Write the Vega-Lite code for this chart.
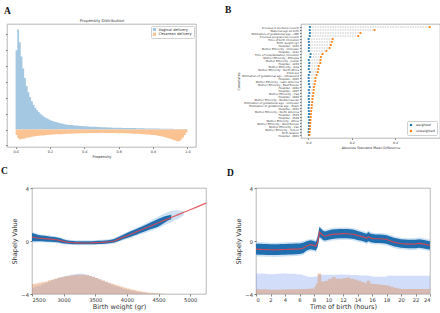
{
"$schema": "https://vega.github.io/schema/vega-lite/v6.json",
"padding": {"left": 0, "top": 4, "right": 0, "bottom": 0},
"config": {
  "view": {"stroke": "#9a9a9a", "strokeWidth": 0.7},
  "axis": {"domain": false, "grid": false, "tickColor": "#333", "tickWidth": 0.6, "labelColor": "#333", "titleColor": "#333", "labelFont": "DejaVu Sans", "titleFont": "DejaVu Sans", "titleFontWeight": "normal"},
  "legend": {"labelFont": "DejaVu Sans", "labelColor": "#333"},
  "title": {"font": "Liberation Serif", "fontWeight": "bold", "fontSize": 9.5, "anchor": "start", "frame": "group", "baseline": "alphabetic", "color": "#111"}
},
"spacing": 6,
"resolve": {"scale": {"color": "independent"}},
"vconcat": [
 {"hconcat": [
  {
   "width": 189, "height": 123,
   "title": {"text": "A", "dx": -3, "offset": 2.6},
   "data": {"values": [
    {"p":0.00,"V":5.0,"C":-0.35},{"p":0.01,"V":6.3,"C":-0.55},{"p":0.02,"V":5.5,"C":-0.62},{"p":0.03,"V":4.6,"C":-0.6},{"p":0.04,"V":3.85,"C":-0.58},
    {"p":0.05,"V":3.25,"C":-0.56},{"p":0.06,"V":2.75,"C":-0.52},{"p":0.07,"V":2.35,"C":-0.5},{"p":0.08,"V":2.05,"C":-0.49},{"p":0.09,"V":1.78,"C":-0.45},
    {"p":0.10,"V":1.56,"C":-0.44},{"p":0.11,"V":1.38,"C":-0.42},{"p":0.12,"V":1.23,"C":-0.41},{"p":0.13,"V":1.1,"C":-0.39},{"p":0.14,"V":0.99,"C":-0.38},
    {"p":0.15,"V":0.9,"C":-0.37},{"p":0.16,"V":0.82,"C":-0.37},{"p":0.17,"V":0.75,"C":-0.35},{"p":0.18,"V":0.69,"C":-0.35},{"p":0.19,"V":0.63,"C":-0.33},
    {"p":0.20,"V":0.58,"C":-0.33},{"p":0.21,"V":0.54,"C":-0.32},{"p":0.22,"V":0.5,"C":-0.32},{"p":0.23,"V":0.47,"C":-0.3},{"p":0.24,"V":0.44,"C":-0.3},
    {"p":0.25,"V":0.41,"C":-0.3},{"p":0.26,"V":0.38,"C":-0.29},{"p":0.27,"V":0.36,"C":-0.28},{"p":0.28,"V":0.34,"C":-0.28},{"p":0.29,"V":0.32,"C":-0.27},
    {"p":0.30,"V":0.3,"C":-0.27},{"p":0.31,"V":0.29,"C":-0.27},{"p":0.32,"V":0.28,"C":-0.26},{"p":0.33,"V":0.27,"C":-0.25},{"p":0.34,"V":0.26,"C":-0.25},
    {"p":0.35,"V":0.25,"C":-0.25},{"p":0.36,"V":0.24,"C":-0.24},{"p":0.37,"V":0.23,"C":-0.24},{"p":0.38,"V":0.22,"C":-0.24},{"p":0.39,"V":0.21,"C":-0.23},
    {"p":0.40,"V":0.2,"C":-0.23},{"p":0.41,"V":0.2,"C":-0.23},{"p":0.42,"V":0.19,"C":-0.22},{"p":0.43,"V":0.18,"C":-0.22},{"p":0.44,"V":0.18,"C":-0.22},
    {"p":0.45,"V":0.17,"C":-0.21},{"p":0.46,"V":0.17,"C":-0.22},{"p":0.47,"V":0.16,"C":-0.21},{"p":0.48,"V":0.16,"C":-0.21},{"p":0.49,"V":0.15,"C":-0.21},
    {"p":0.50,"V":0.15,"C":-0.2},{"p":0.51,"V":0.14,"C":-0.21},{"p":0.52,"V":0.14,"C":-0.21},{"p":0.53,"V":0.13,"C":-0.21},{"p":0.54,"V":0.13,"C":-0.22},
    {"p":0.55,"V":0.13,"C":-0.21},{"p":0.56,"V":0.12,"C":-0.22},{"p":0.57,"V":0.12,"C":-0.22},{"p":0.58,"V":0.12,"C":-0.22},{"p":0.59,"V":0.11,"C":-0.23},
    {"p":0.60,"V":0.11,"C":-0.23},{"p":0.61,"V":0.11,"C":-0.22},{"p":0.62,"V":0.1,"C":-0.23},{"p":0.63,"V":0.1,"C":-0.24},{"p":0.64,"V":0.1,"C":-0.24},
    {"p":0.65,"V":0.1,"C":-0.24},{"p":0.66,"V":0.09,"C":-0.25},{"p":0.67,"V":0.09,"C":-0.25},{"p":0.68,"V":0.09,"C":-0.26},{"p":0.69,"V":0.09,"C":-0.26},
    {"p":0.70,"V":0.08,"C":-0.27},{"p":0.71,"V":0.08,"C":-0.27},{"p":0.72,"V":0.08,"C":-0.28},{"p":0.73,"V":0.08,"C":-0.28},{"p":0.74,"V":0.08,"C":-0.29},
    {"p":0.75,"V":0.07,"C":-0.3},{"p":0.76,"V":0.07,"C":-0.31},{"p":0.77,"V":0.07,"C":-0.32},{"p":0.78,"V":0.07,"C":-0.33},{"p":0.79,"V":0.07,"C":-0.34},
    {"p":0.80,"V":0.06,"C":-0.35},{"p":0.81,"V":0.06,"C":-0.36},{"p":0.82,"V":0.06,"C":-0.38},{"p":0.83,"V":0.06,"C":-0.4},{"p":0.84,"V":0.05,"C":-0.42},
    {"p":0.85,"V":0.05,"C":-0.44},{"p":0.86,"V":0.05,"C":-0.47},{"p":0.87,"V":0.05,"C":-0.5},{"p":0.88,"V":0.05,"C":-0.53},{"p":0.89,"V":0.05,"C":-0.56},
    {"p":0.90,"V":0.05,"C":-0.6},{"p":0.91,"V":0.05,"C":-0.64},{"p":0.92,"V":0.04,"C":-0.68},{"p":0.93,"V":0.04,"C":-0.72},{"p":0.94,"V":0.04,"C":-0.74},
    {"p":0.95,"V":0.04,"C":-0.72},{"p":0.96,"V":0.04,"C":-0.62},{"p":0.97,"V":0.03,"C":-0.5},{"p":0.98,"V":0.03,"C":-0.35},{"p":0.99,"V":0.03,"C":-0.18},
    {"p":1.00,"V":0.03,"C":-0.18}
   ]},
   "transform": [{"fold": ["V", "C"], "as": ["s", "h"]}],
   "resolve": {"axis": {"x": "independent"}},
   "layer": [
    {"mark": {"type": "area", "interpolate": "step-after"},
     "encoding": {
      "x": {"field": "p", "type": "quantitative", "scale": {"domain": [-0.05, 1.05], "nice": false, "zero": false},
            "axis": {"values": [0, 0.2, 0.4, 0.6, 0.8, 1.0], "format": ".1f", "title": "Propensity", "labelFontSize": 3.4, "titleFontSize": 3.6, "tickSize": 1.5, "labelPadding": 1, "titlePadding": 1.5}},
      "y": {"field": "h", "type": "quantitative", "stack": null, "scale": {"domain": [-1.1, 6.65], "nice": false, "zero": false},
            "axis": {"values": [-1, 0, 1, 2, 3, 4, 5, 6], "labels": false, "title": null, "tickSize": 1.5}},
      "y2": {"datum": 0},
      "color": {"field": "s", "type": "nominal", "scale": {"domain": ["V", "C"], "range": ["#a4c7e2", "#fcc392"]},
                "legend": {"title": null, "orient": "top-right", "offset": 2, "padding": 1.5, "strokeColor": "#d0d0d0", "fillColor": "white", "cornerRadius": 1, "labelFontSize": 3.7, "symbolType": "square", "symbolSize": 10, "symbolStrokeWidth": 0, "rowPadding": 0.8, "labelOffset": 2,
                           "labelExpr": "datum.label == 'V' ? 'Vaginal delivery' : 'Cesarean delivery'"}}
     }},
    {"mark": {"type": "point", "opacity": 0},
     "encoding": {
      "x": {"field": "p", "type": "quantitative", "axis": {"orient": "top", "title": "Propensity Distribution", "labels": false, "ticks": false, "titleFontSize": 3.9, "titlePadding": 1.5}}
     }}
   ]
  },
  {
   "width": 139, "height": 114,
   "title": {"text": "B", "dx": -76, "offset": 9.7},
   "data": {"values": [
    {"c": "Previous C-Sections (count)", "weighted": 0.007, "unweighted": 0.56},
    {"c": "Maternal age at birth", "weighted": 0.006, "unweighted": 0.305},
    {"c": "Estimation of gestational age - LMP", "weighted": 0.007, "unweighted": 0.24},
    {"c": "Previous pregnancies (count)", "weighted": 0.006, "unweighted": 0.23},
    {"c": "Time of birth (minutes)", "weighted": 0.001, "unweighted": 0.112},
    {"c": "Birth weight (gr)", "weighted": 0.002, "unweighted": 0.108},
    {"c": "Hospital - 1101", "weighted": 0.003, "unweighted": 0.104},
    {"c": "Mother Ethnicity - Unknown", "weighted": 0.002, "unweighted": 0.098},
    {"c": "Hospital - 1112", "weighted": 0.002, "unweighted": 0.083},
    {"c": "Time of hospitalization (minutes)", "weighted": 0.01, "unweighted": 0.066},
    {"c": "Mother Ethnicity - Ethiopia", "weighted": 0.008, "unweighted": 0.058},
    {"c": "Mother Ethnicity - Jewish", "weighted": 0.002, "unweighted": 0.056},
    {"c": "Hospital - 1203", "weighted": 0.004, "unweighted": 0.055},
    {"c": "Mother Ethnicity - Asia", "weighted": 0.003, "unweighted": 0.048},
    {"c": "Mother Ethnicity - North Africa", "weighted": 0.002, "unweighted": 0.046},
    {"c": "Child sex", "weighted": 0.007, "unweighted": 0.043},
    {"c": "Estimation of gestational age - Ultrasound", "weighted": 0.002, "unweighted": 0.038},
    {"c": "Hospital - 1305", "weighted": 0.001, "unweighted": 0.033},
    {"c": "Mother Ethnicity - Latin America", "weighted": 0.002, "unweighted": 0.032},
    {"c": "Mother Ethnicity - East Europe", "weighted": 0.003, "unweighted": 0.029},
    {"c": "Hospital - 1402", "weighted": 0.006, "unweighted": 0.026},
    {"c": "Hospital - 1407", "weighted": 0.002, "unweighted": 0.025},
    {"c": "Mother Ethnicity - Iraq", "weighted": 0.004, "unweighted": 0.023},
    {"c": "Hospital - 1409", "weighted": 0.001, "unweighted": 0.021},
    {"c": "Mother Ethnicity - Mediterranean", "weighted": 0.002, "unweighted": 0.019},
    {"c": "Estimation of gestational age - Unknown", "weighted": 0.003, "unweighted": 0.018},
    {"c": "Estimation of gestational age - Exam", "weighted": 0.002, "unweighted": 0.016},
    {"c": "Hospital - 1501", "weighted": 0.001, "unweighted": 0.015},
    {"c": "Mother Ethnicity - North America", "weighted": 0.002, "unweighted": 0.013},
    {"c": "Hospital - 1503", "weighted": 0.003, "unweighted": 0.012},
    {"c": "Hospital - 1508", "weighted": 0.001, "unweighted": 0.011},
    {"c": "Mother Ethnicity - Africa", "weighted": 0.004, "unweighted": 0.01},
    {"c": "Mother Ethnicity - West Europe", "weighted": 0.002, "unweighted": 0.009},
    {"c": "Mother Ethnicity - Iran", "weighted": 0.003, "unweighted": 0.008},
    {"c": "Mother Ethnicity - Yemen", "weighted": 0.002, "unweighted": 0.007},
    {"c": "Birth Season", "weighted": 0.001, "unweighted": 0.006},
    {"c": "Hospital - 1601", "weighted": 0.002, "unweighted": 0.005}
   ]},
   "layer": [
    {"mark": {"type": "rule", "strokeDash": [1.5, 1], "color": "#9a9a9a", "strokeWidth": 0.6},
     "encoding": {
      "y": {"field": "c", "type": "nominal", "sort": null, "scale": {"type": "point", "padding": 2.1},
            "axis": {"title": "Covariates", "titleFontSize": 3.4, "titlePadding": 1.5, "labelFontSize": 2.7, "labelPadding": 1, "tickSize": 1.5, "labelOverlap": false, "labelLimit": 0}},
      "x": {"field": "weighted", "type": "quantitative", "scale": {"domain": [-0.034, 0.607], "nice": false, "zero": false},
            "axis": {"values": [0, 0.1, 0.2, 0.3, 0.4, 0.5], "format": ".1f", "title": "Absolute Standard Mean Difference", "labelFontSize": 3.2, "titleFontSize": 3.3, "tickSize": 1.5, "labelPadding": 1, "titlePadding": 1.5}},
      "x2": {"field": "unweighted"}
     }},
    {"transform": [{"fold": ["weighted", "unweighted"], "as": ["k", "v"]}],
     "mark": {"type": "point", "filled": true, "size": 5, "opacity": 1},
     "encoding": {
      "y": {"field": "c", "type": "nominal", "sort": null},
      "x": {"field": "v", "type": "quantitative"},
      "color": {"field": "k", "type": "nominal", "scale": {"domain": ["weighted", "unweighted"], "range": ["#1f77b4", "#ff7f0e"]},
                "legend": {"title": null, "orient": "bottom-right", "offset": 3, "padding": 2, "strokeColor": "#d0d0d0", "fillColor": "white", "cornerRadius": 1, "labelFontSize": 3.2, "symbolType": "circle", "symbolSize": 6, "rowPadding": 2, "labelOffset": 3}}
     }}
   ]
  }
 ], "spacing": 27, "resolve": {"scale": {"color": "independent"}}},
 {"hconcat": [
  {"hconcat": [
   {"width": 25, "height": 106, "view": {"stroke": null}, "data": {"values": [{"s": 0}]}, "mark": {"type": "point", "opacity": 0}},
   {
    "width": 174, "height": 106,
    "title": {"text": "C", "dx": -31, "offset": 10.5},
    "data": {"values": [
     {"w":2500,"m":0.3,"lo":-0.02,"hi":0.6,"lo2":-0.12,"hi2":0.7,"hb":-3.5,"ho":-3.25},
     {"w":2550,"m":0.25,"lo":-0.02,"hi":0.52,"lo2":-0.12,"hi2":0.62,"hb":-3.42,"ho":-3.2},
     {"w":2600,"m":0.22,"lo":-0.02,"hi":0.46,"lo2":-0.1,"hi2":0.55,"hb":-3.35,"ho":-3.15},
     {"w":2650,"m":0.2,"lo":-0.02,"hi":0.42,"lo2":-0.1,"hi2":0.5,"hb":-3.25,"ho":-3.1},
     {"w":2700,"m":0.18,"lo":-0.03,"hi":0.39,"lo2":-0.1,"hi2":0.47,"hb":-3.15,"ho":-3.05},
     {"w":2750,"m":0.16,"lo":-0.05,"hi":0.36,"lo2":-0.12,"hi2":0.43,"hb":-3.05,"ho":-2.97},
     {"w":2800,"m":0.14,"lo":-0.06,"hi":0.33,"lo2":-0.13,"hi2":0.4,"hb":-2.95,"ho":-2.9},
     {"w":2850,"m":0.11,"lo":-0.08,"hi":0.3,"lo2":-0.15,"hi2":0.37,"hb":-2.86,"ho":-2.84},
     {"w":2900,"m":0.08,"lo":-0.1,"hi":0.26,"lo2":-0.17,"hi2":0.33,"hb":-2.78,"ho":-2.78},
     {"w":2950,"m":0.03,"lo":-0.13,"hi":0.2,"lo2":-0.2,"hi2":0.27,"hb":-2.72,"ho":-2.73},
     {"w":3000,"m":-0.03,"lo":-0.18,"hi":0.11,"lo2":-0.25,"hi2":0.18,"hb":-2.65,"ho":-2.68},
     {"w":3050,"m":-0.08,"lo":-0.2,"hi":0.05,"lo2":-0.27,"hi2":0.12,"hb":-2.6,"ho":-2.64},
     {"w":3100,"m":-0.11,"lo":-0.22,"hi":0.02,"lo2":-0.29,"hi2":0.09,"hb":-2.55,"ho":-2.6},
     {"w":3150,"m":-0.13,"lo":-0.24,"hi":0.0,"lo2":-0.3,"hi2":0.07,"hb":-2.5,"ho":-2.57},
     {"w":3200,"m":-0.14,"lo":-0.25,"hi":-0.01,"lo2":-0.31,"hi2":0.05,"hb":-2.47,"ho":-2.55},
     {"w":3250,"m":-0.14,"lo":-0.25,"hi":-0.01,"lo2":-0.31,"hi2":0.05,"hb":-2.47,"ho":-2.54},
     {"w":3300,"m":-0.15,"lo":-0.25,"hi":-0.02,"lo2":-0.31,"hi2":0.05,"hb":-2.5,"ho":-2.55},
     {"w":3350,"m":-0.15,"lo":-0.25,"hi":-0.02,"lo2":-0.31,"hi2":0.05,"hb":-2.55,"ho":-2.59},
     {"w":3400,"m":-0.15,"lo":-0.25,"hi":-0.02,"lo2":-0.31,"hi2":0.05,"hb":-2.62,"ho":-2.65},
     {"w":3450,"m":-0.14,"lo":-0.24,"hi":-0.01,"lo2":-0.3,"hi2":0.05,"hb":-2.7,"ho":-2.72},
     {"w":3500,"m":-0.13,"lo":-0.24,"hi":0.0,"lo2":-0.3,"hi2":0.07,"hb":-2.8,"ho":-2.8},
     {"w":3550,"m":-0.12,"lo":-0.23,"hi":0.01,"lo2":-0.29,"hi2":0.07,"hb":-2.9,"ho":-2.89},
     {"w":3600,"m":-0.11,"lo":-0.22,"hi":0.02,"lo2":-0.28,"hi2":0.09,"hb":-3.0,"ho":-2.98},
     {"w":3650,"m":-0.09,"lo":-0.2,"hi":0.04,"lo2":-0.27,"hi2":0.11,"hb":-3.1,"ho":-3.07},
     {"w":3700,"m":-0.07,"lo":-0.18,"hi":0.06,"lo2":-0.25,"hi2":0.13,"hb":-3.2,"ho":-3.15},
     {"w":3750,"m":-0.04,"lo":-0.16,"hi":0.1,"lo2":-0.23,"hi2":0.17,"hb":-3.3,"ho":-3.22},
     {"w":3800,"m":0,"lo":-0.12,"hi":0.15,"lo2":-0.19,"hi2":0.22,"hb":-3.4,"ho":-3.3},
     {"w":3850,"m":0.1,"lo":-0.03,"hi":0.26,"lo2":-0.1,"hi2":0.33,"hb":-3.48,"ho":-3.38},
     {"w":3900,"m":0.2,"lo":0.06,"hi":0.38,"lo2":-0.01,"hi2":0.45,"hb":-3.57,"ho":-3.45},
     {"w":3950,"m":0.3,"lo":0.15,"hi":0.5,"lo2":0.08,"hi2":0.57,"hb":-3.64,"ho":-3.52},
     {"w":4000,"m":0.39,"lo":0.23,"hi":0.6,"lo2":0.15,"hi2":0.68,"hb":-3.7,"ho":-3.58},
     {"w":4050,"m":0.49,"lo":0.31,"hi":0.71,"lo2":0.23,"hi2":0.8,"hb":-3.75,"ho":-3.64},
     {"w":4100,"m":0.59,"lo":0.4,"hi":0.81,"lo2":0.31,"hi2":0.9,"hb":-3.8,"ho":-3.7},
     {"w":4150,"m":0.69,"lo":0.48,"hi":0.91,"lo2":0.39,"hi2":1.0,"hb":-3.84,"ho":-3.75},
     {"w":4200,"m":0.79,"lo":0.58,"hi":1.01,"lo2":0.48,"hi2":1.1,"hb":-3.88,"ho":-3.8},
     {"w":4250,"m":0.89,"lo":0.66,"hi":1.11,"lo2":0.55,"hi2":1.22,"hb":-3.91,"ho":-3.84},
     {"w":4300,"m":0.99,"lo":0.75,"hi":1.22,"lo2":0.63,"hi2":1.34,"hb":-3.94,"ho":-3.88},
     {"w":4350,"m":1.08,"lo":0.84,"hi":1.34,"lo2":0.71,"hi2":1.46,"hb":-3.96,"ho":-3.91},
     {"w":4400,"m":1.18,"lo":0.92,"hi":1.46,"lo2":0.79,"hi2":1.6,"hb":-3.97,"ho":-3.93},
     {"w":4450,"m":1.28,"lo":1.0,"hi":1.57,"lo2":0.88,"hi2":1.72,"hb":-3.98,"ho":-3.95},
     {"w":4500,"m":1.38,"lo":1.1,"hi":1.67,"lo2":0.98,"hi2":1.85,"hb":-3.99,"ho":-3.97},
     {"w":4550,"m":1.48,"lo":1.25,"hi":1.78,"lo2":1.08,"hi2":1.98,"ho":-3.98},
     {"w":4600,"m":1.58,"lo":1.4,"hi":1.86,"lo2":1.22,"hi2":2.08,"ho":-3.99},
     {"w":4650,"m":1.67,"lo":1.55,"hi":1.92,"lo2":1.32,"hi2":2.18},
     {"w":4700,"m":1.77,"lo":1.65,"hi":1.98,"lo2":1.42,"hi2":2.28},
     {"w":4750,"m":1.87,"lo2":1.55,"hi2":2.3},
     {"w":4800,"m":1.97,"lo2":1.65,"hi2":2.32},
     {"w":4850,"m":2.07,"lo2":1.8,"hi2":2.28},
     {"w":4900,"m":2.17,"lo2":1.95,"hi2":2.25},
     {"w":4950,"m":2.26},
     {"w":5000,"m":2.36},
     {"w":5100,"m":2.56},
     {"w":5250,"m":2.86}
    ]},
    "encoding": {
     "x": {"field": "w", "type": "quantitative", "scale": {"domain": [2500, 5250], "nice": false, "zero": false},
           "axis": {"values": [2500, 3000, 3500, 4000, 4500, 5000], "format": "d", "title": "Birth weight (gr)", "labelFontSize": 5.2, "titleFontSize": 6.5, "tickSize": 2, "labelPadding": 1, "titlePadding": 1.5}}
    },
    "layer": [
     {"mark": {"type": "area", "interpolate": "step-after", "color": "#7f9df0", "opacity": 0.35},
      "encoding": {"y": {"field": "hb", "type": "quantitative", "scale": {"domain": [-4, 4], "nice": false},
                         "axis": {"values": [-4, -3, -2, -1, 0, 1, 2, 3, 4], "title": "Shapely Value", "labelFontSize": 5.2, "titleFontSize": 6.5, "tickSize": 2, "labelPadding": 1.5, "titlePadding": 3}},
                   "y2": {"datum": -4}}},
     {"mark": {"type": "area", "interpolate": "step-after", "color": "#dd8a4c", "opacity": 0.42},
      "encoding": {"y": {"field": "ho", "type": "quantitative"}, "y2": {"datum": -4}}},
     {"mark": {"type": "area", "color": "#9cc3e6", "opacity": 0.5},
      "encoding": {"y": {"field": "lo2", "type": "quantitative"}, "y2": {"field": "hi2"}}},
     {"mark": {"type": "area", "color": "#1f6fb0"},
      "encoding": {"y": {"field": "lo", "type": "quantitative"}, "y2": {"field": "hi"}}},
     {"mark": {"type": "line", "color": "#e0454d", "strokeWidth": 1.2, "opacity": 0.85},
      "encoding": {"y": {"field": "m", "type": "quantitative"}}}
    ]
   }
  ], "spacing": 0, "bounds": "flush"},
  {
   "width": 174, "height": 106,
   "title": {"text": "D", "dx": -29, "offset": 9},
   "data": {"values": [
    {"t":0,"m":-0.62,"lo":-1.02,"hi":-0.2,"lo2":-1.15,"hi2":-0.08,"hb":-2.47,"ho":-3.65},
    {"t":0.5,"m":-0.63,"lo":-1.03,"hi":-0.21,"lo2":-1.17,"hi2":-0.1,"hb":-2.46,"ho":-3.66},
    {"t":1,"m":-0.64,"lo":-1.04,"hi":-0.22,"lo2":-1.17,"hi2":-0.1,"hb":-2.48,"ho":-3.65},
    {"t":1.5,"m":-0.65,"lo":-1.05,"hi":-0.23,"lo2":-1.18,"hi2":-0.12,"hb":-2.5,"ho":-3.66},
    {"t":2,"m":-0.66,"lo":-1.06,"hi":-0.24,"lo2":-1.19,"hi2":-0.13,"hb":-2.5,"ho":-3.67},
    {"t":2.5,"m":-0.67,"lo":-1.06,"hi":-0.25,"lo2":-1.2,"hi2":-0.14,"hb":-2.49,"ho":-3.67},
    {"t":3,"m":-0.66,"lo":-1.05,"hi":-0.24,"lo2":-1.19,"hi2":-0.13,"hb":-2.47,"ho":-3.66},
    {"t":3.5,"m":-0.65,"lo":-1.04,"hi":-0.23,"lo2":-1.18,"hi2":-0.12,"hb":-2.46,"ho":-3.66},
    {"t":4,"m":-0.64,"lo":-1.03,"hi":-0.22,"lo2":-1.17,"hi2":-0.1,"hb":-2.47,"ho":-3.65},
    {"t":4.5,"m":-0.63,"lo":-1.02,"hi":-0.21,"lo2":-1.16,"hi2":-0.09,"hb":-2.48,"ho":-3.65},
    {"t":5,"m":-0.62,"lo":-1.01,"hi":-0.2,"lo2":-1.15,"hi2":-0.08,"hb":-2.48,"ho":-3.64},
    {"t":5.5,"m":-0.61,"lo":-1.0,"hi":-0.19,"lo2":-1.14,"hi2":-0.07,"hb":-2.5,"ho":-3.64},
    {"t":6,"m":-0.6,"lo":-0.98,"hi":-0.18,"lo2":-1.12,"hi2":-0.05,"hb":-2.52,"ho":-3.63},
    {"t":6.5,"m":-0.55,"lo":-0.92,"hi":-0.13,"lo2":-1.05,"hi2":0.0,"hb":-2.62,"ho":-3.62},
    {"t":7,"m":-0.38,"lo":-0.72,"hi":-0.02,"lo2":-0.85,"hi2":0.1,"hb":-2.7,"ho":-3.6},
    {"t":7.5,"m":-0.28,"lo":-0.62,"hi":0.05,"lo2":-0.75,"hi2":0.16,"hb":-2.72,"ho":-3.58},
    {"t":8,"m":-0.33,"lo":-0.67,"hi":0.0,"lo2":-0.8,"hi2":0.12,"hb":-2.68,"ho":-3.45},
    {"t":8.25,"m":-0.4,"lo":-0.72,"hi":-0.08,"lo2":-0.85,"hi2":0.05,"hb":-2.68,"ho":-3.2},
    {"t":8.5,"m":-0.1,"lo":-0.45,"hi":0.3,"lo2":-0.6,"hi2":0.45,"hb":-2.55,"ho":-2.45},
    {"t":8.75,"m":0.68,"lo":0.3,"hi":1.05,"lo2":0.18,"hi2":1.15,"hb":-2.55,"ho":-2.45},
    {"t":9,"m":0.55,"lo":0.2,"hi":0.9,"lo2":0.08,"hi2":1.02,"hb":-2.55,"ho":-3.05},
    {"t":9.25,"m":0.42,"lo":0.08,"hi":0.77,"lo2":-0.04,"hi2":0.9,"hb":-2.55,"ho":-3.05},
    {"t":9.5,"m":0.36,"lo":0.03,"hi":0.72,"lo2":-0.09,"hi2":0.85,"hb":-2.55,"ho":-3.0},
    {"t":10,"m":0.44,"lo":0.1,"hi":0.8,"lo2":-0.02,"hi2":0.92,"hb":-2.54,"ho":-2.85},
    {"t":10.5,"m":0.5,"lo":0.16,"hi":0.86,"lo2":0.04,"hi2":0.98,"hb":-2.55,"ho":-2.72},
    {"t":11,"m":0.52,"lo":0.18,"hi":0.88,"lo2":0.06,"hi2":1.0,"hb":-2.55,"ho":-2.85},
    {"t":11.5,"m":0.54,"lo":0.2,"hi":0.9,"lo2":0.08,"hi2":1.02,"hb":-2.53,"ho":-2.84},
    {"t":12,"m":0.55,"lo":0.21,"hi":0.9,"lo2":0.09,"hi2":1.02,"hb":-2.54,"ho":-2.8},
    {"t":12.5,"m":0.55,"lo":0.21,"hi":0.9,"lo2":0.09,"hi2":1.02,"hb":-2.55,"ho":-2.75},
    {"t":13,"m":0.53,"lo":0.19,"hi":0.88,"lo2":0.07,"hi2":1.0,"hb":-2.56,"ho":-2.85},
    {"t":13.5,"m":0.5,"lo":0.16,"hi":0.84,"lo2":0.04,"hi2":0.96,"hb":-2.57,"ho":-2.9},
    {"t":14,"m":0.42,"lo":0.08,"hi":0.76,"lo2":-0.04,"hi2":0.88,"hb":-2.58,"ho":-3.0},
    {"t":14.5,"m":0.35,"lo":0.02,"hi":0.68,"lo2":-0.1,"hi2":0.8,"hb":-2.6,"ho":-3.1},
    {"t":15,"m":0.27,"lo":-0.05,"hi":0.59,"lo2":-0.17,"hi2":0.71,"hb":-2.6,"ho":-3.2},
    {"t":15.25,"m":0.2,"lo":-0.12,"hi":0.54,"lo2":-0.24,"hi2":0.66,"hb":-2.6,"ho":-3.0},
    {"t":15.5,"m":0.32,"lo":-0.02,"hi":0.67,"lo2":-0.14,"hi2":0.79,"hb":-2.62,"ho":-3.0},
    {"t":15.75,"m":0.25,"lo":-0.07,"hi":0.57,"lo2":-0.19,"hi2":0.69,"hb":-2.65,"ho":-3.2},
    {"t":16,"m":0.2,"lo":-0.12,"hi":0.52,"lo2":-0.24,"hi2":0.64,"hb":-2.7,"ho":-3.25},
    {"t":16.5,"m":0.17,"lo":-0.15,"hi":0.49,"lo2":-0.27,"hi2":0.61,"hb":-2.7,"ho":-3.27},
    {"t":17,"m":0.17,"lo":-0.15,"hi":0.49,"lo2":-0.27,"hi2":0.61,"hb":-2.7,"ho":-3.3},
    {"t":17.5,"m":0.15,"lo":-0.17,"hi":0.47,"lo2":-0.29,"hi2":0.59,"hb":-2.7,"ho":-3.33},
    {"t":18,"m":0.12,"lo":-0.2,"hi":0.44,"lo2":-0.32,"hi2":0.56,"hb":-2.62,"ho":-3.38},
    {"t":18.5,"m":0.02,"lo":-0.3,"hi":0.34,"lo2":-0.42,"hi2":0.46,"hb":-2.62,"ho":-3.45},
    {"t":19,"m":-0.08,"lo":-0.4,"hi":0.24,"lo2":-0.52,"hi2":0.36,"hb":-2.62,"ho":-3.52},
    {"t":19.5,"m":-0.14,"lo":-0.46,"hi":0.18,"lo2":-0.58,"hi2":0.3,"hb":-2.63,"ho":-3.58},
    {"t":20,"m":-0.19,"lo":-0.51,"hi":0.13,"lo2":-0.63,"hi2":0.25,"hb":-2.63,"ho":-3.62},
    {"t":20.5,"m":-0.21,"lo":-0.53,"hi":0.11,"lo2":-0.65,"hi2":0.23,"hb":-2.62,"ho":-3.62},
    {"t":21,"m":-0.23,"lo":-0.55,"hi":0.09,"lo2":-0.67,"hi2":0.21,"hb":-2.63,"ho":-3.63},
    {"t":21.5,"m":-0.23,"lo":-0.55,"hi":0.09,"lo2":-0.67,"hi2":0.21,"hb":-2.62,"ho":-3.63},
    {"t":22,"m":-0.22,"lo":-0.54,"hi":0.1,"lo2":-0.66,"hi2":0.22,"hb":-2.62,"ho":-3.62},
    {"t":22.5,"m":-0.18,"lo":-0.5,"hi":0.14,"lo2":-0.62,"hi2":0.26,"hb":-2.62,"ho":-3.62},
    {"t":23,"m":-0.22,"lo":-0.54,"hi":0.1,"lo2":-0.66,"hi2":0.22,"hb":-2.63,"ho":-3.63},
    {"t":23.5,"m":-0.28,"lo":-0.6,"hi":0.04,"lo2":-0.72,"hi2":0.16,"hb":-2.62,"ho":-3.63},
    {"t":24,"m":-0.33,"lo":-0.65,"hi":-0.01,"lo2":-0.77,"hi2":0.11,"hb":-2.62,"ho":-3.63}
   ]},
   "encoding": {
    "x": {"field": "t", "type": "quantitative", "scale": {"domain": [0, 24], "nice": false, "zero": false},
          "axis": {"values": [0, 2, 4, 6, 8, 10, 12, 14, 16, 18, 20, 22, 24], "title": "Time of birth (hours)", "labelFontSize": 5.2, "titleFontSize": 6.5, "tickSize": 2, "labelPadding": 1, "titlePadding": 1.5}}
   },
   "layer": [
    {"mark": {"type": "area", "interpolate": "step-after", "color": "#7f9df0", "opacity": 0.35},
     "encoding": {"y": {"field": "hb", "type": "quantitative", "scale": {"domain": [-4, 4], "nice": false},
                        "axis": {"values": [-4, -3, -2, -1, 0, 1, 2, 3, 4], "title": "Shapely Value", "labelFontSize": 5.2, "titleFontSize": 6.5, "tickSize": 2, "labelPadding": 1.5, "titlePadding": 3}},
                  "y2": {"datum": -4}}},
    {"mark": {"type": "area", "interpolate": "step-after", "color": "#dd8a4c", "opacity": 0.42},
     "encoding": {"y": {"field": "ho", "type": "quantitative"}, "y2": {"datum": -4}}},
    {"mark": {"type": "area", "color": "#9cc3e6", "opacity": 0.5},
     "encoding": {"y": {"field": "lo2", "type": "quantitative"}, "y2": {"field": "hi2"}}},
    {"mark": {"type": "area", "color": "#1f6fb0"},
     "encoding": {"y": {"field": "lo", "type": "quantitative"}, "y2": {"field": "hi"}}},
    {"mark": {"type": "line", "color": "#d9454f", "strokeWidth": 1.2, "opacity": 0.9},
     "encoding": {"y": {"field": "m", "type": "quantitative"}}}
   ]
  }
 ], "spacing": 17}
]
}
